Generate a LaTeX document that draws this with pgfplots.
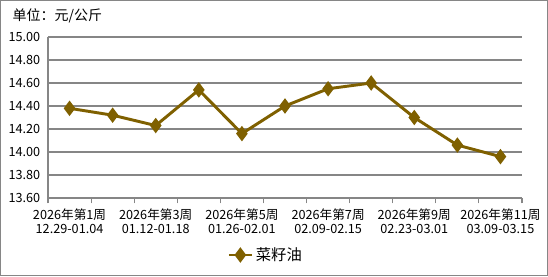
\documentclass[border=0pt]{standalone}
\usepackage{pgfplots}
\pgfplotsset{compat=1.18}
\usepackage{fontspec}
\setmainfont{Noto Sans CJK SC}
\definecolor{oil}{RGB}{127,96,0}
\definecolor{gridc}{RGB}{134,134,134}
\begin{document}
\begin{tikzpicture}
\draw[gridc,line width=0.75pt] (0.375pt,0.375pt) rectangle (410.625pt,206.625pt);
\node[anchor=west,font=\fontsize{10.5}{12}\selectfont] at (6pt,195.5pt) {单位：元/公斤};
\begin{axis}[
  at={(36pt,58.5pt)}, anchor=south west,
  scale only axis, width=355.5pt, height=120.75pt,
  xmin=-0.5, xmax=10.5, ymin=13.6, ymax=15.0,
  axis x line*=bottom, axis y line*=left,
  axis line style={gridc,line width=0.8pt,-},
  ytick={13.6,13.8,...,15.0},
  yticklabel style={/pgf/number format/fixed,/pgf/number format/fixed zerofill,/pgf/number format/precision=2,font=\fontsize{9.5}{11}\selectfont,xshift=2pt},
  /pgf/number format/assume math mode=true,
  ymajorgrids, grid style={gridc,line width=0.8pt},
  major y tick style={draw=none},
  xtick={0,2,4,6,8,10},
  xticklabels={{2026年第1周\\12.29-01.04},{2026年第3周\\01.12-01.18},{2026年第5周\\01.26-02.01},{2026年第7周\\02.09-02.15},{2026年第9周\\02.23-03.01},{2026年第11周\\03.09-03.15}},
  xticklabel style={align=center,font=\fontsize{9.5}{11}\selectfont},
  major x tick style={draw=none},
  minor xtick={-0.5,0.5,...,10.5},
  minor x tick style={gridc,line width=0.8pt},
  minor tick length=4pt,
  tick align=outside,
  legend style={at={(0.46,-0.354)},anchor=center,draw=none,fill=none,font=\fontsize{11.5}{13}\selectfont},
  legend cell align=left,
  clip=false,
]
\addplot[color=oil,line width=2.2pt,mark=diamond*,mark size=4pt,mark options={solid,fill=oil}] coordinates {
(0,14.38) (1,14.32) (2,14.23) (3,14.54) (4,14.16) (5,14.40) (6,14.55) (7,14.60) (8,14.30) (9,14.06) (10,13.96)};
\addlegendentry{菜籽油}
\end{axis}
\end{tikzpicture}
\end{document}
